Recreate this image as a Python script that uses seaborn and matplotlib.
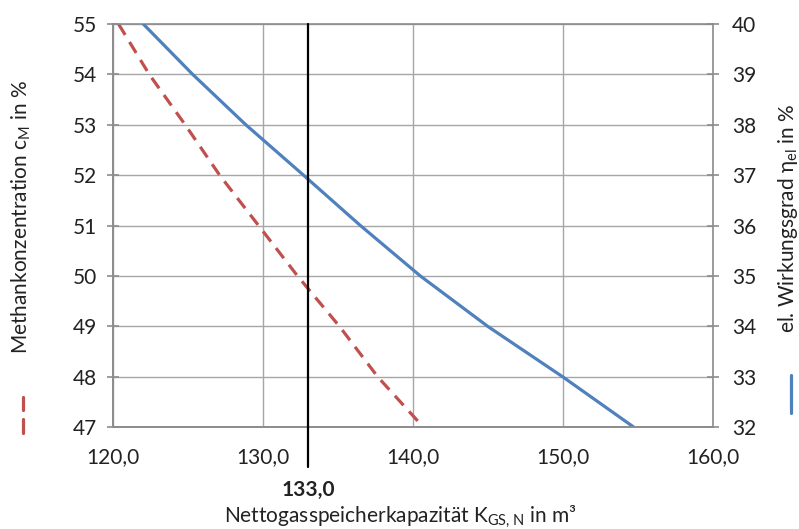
import numpy as np
import pandas as pd
import seaborn as sns
import matplotlib.pyplot as plt
from matplotlib.lines import Line2D
from matplotlib.ticker import FuncFormatter, MultipleLocator

# Methankonzentration (left axis) vs. Nettogasspeicherkapazität
methan_x = [120.35, 122.4, 124.8, 127.1, 129.7, 132.3, 135.1, 137.65, 140.7]
methan_y = [55, 54, 53, 52, 51, 50, 49, 48, 47]

# el. Wirkungsgrad (right axis)
wirk_x = [122.0, 125.3, 128.85, 132.7, 136.5, 140.5, 145.0, 150.0, 154.75]
wirk_y = [40, 39, 38, 37, 36, 35, 34, 33, 32]

marker_x = 133.0
red = '#C0504D'
blue = '#4F81BD'
grey = '#8c8c8c'
fs = 15

sns.set_style('white')
plt.rcParams['font.family'] = ['Lato', 'DejaVu Sans']
plt.rcParams['mathtext.fontset'] = 'custom'
plt.rcParams['mathtext.rm'] = 'Lato'

df_m = pd.DataFrame({'x': methan_x, 'y': methan_y})
df_w = pd.DataFrame({'x': wirk_x, 'y': wirk_y})

fig = plt.figure(figsize=(7.99, 5.29), dpi=100)
ax = fig.add_axes([0.1418, 0.1922, 0.892 - 0.1418, 0.9546 - 0.1922])
ax2 = ax.twinx()

sns.lineplot(data=df_m, x='x', y='y', ax=ax, color=red, lw=2.3,
             estimator=None, sort=False, dashes=False, linestyle=(0, (4, 2.6)))
sns.lineplot(data=df_w, x='x', y='y', ax=ax2, color=blue, lw=2.3,
             estimator=None, sort=False)

ax.set_xlim(120, 160)
ax.set_ylim(47, 55)
ax2.set_ylim(32, 40)
ax.xaxis.set_major_locator(MultipleLocator(10))
ax.yaxis.set_major_locator(MultipleLocator(1))
ax2.yaxis.set_major_locator(MultipleLocator(1))
ax.xaxis.set_major_formatter(FuncFormatter(lambda v, p: f'{v:.1f}'.replace('.', ',')))

ax.grid(True, color='#a6a6a6', lw=1.0)
ax.set_axisbelow(True)
ax2.grid(False)

for a in (ax, ax2):
    for s in a.spines.values():
        s.set_color(grey)
        s.set_linewidth(1.2)
    a.tick_params(direction='inout', length=8, width=1.2, color=grey,
                  labelsize=fs, labelcolor='#222222', pad=8)
    a.set_xlabel('')
    a.set_ylabel('')
ax.spines['right'].set_visible(False)
ax2.spines['top'].set_visible(False)
ax.tick_params(axis='x', pad=10)
ax2.tick_params(axis='y', pad=10)

# marker line at 133,0
ax2.axvline(marker_x, ymin=-0.098, ymax=1, color='black', lw=1.6,
            clip_on=False, zorder=5)
ax.text(marker_x, -0.155, f'{marker_x:.1f}'.replace('.', ','),
        transform=ax.get_xaxis_transform(), ha='center', va='center',
        fontsize=fs, fontweight='bold', color='#222222')

fig.text(400 / 799, 1 - 517 / 529, r'Nettogasspeicherkapazität K$_\mathregular{GS,N}$ in m³',
         ha='center', va='center', fontsize=fs, color='#222222')
fig.text(21 / 799, 1 - 217 / 529, r'Methankonzentration c$_\mathregular{M}$ in %',
         rotation=90, ha='center', va='center', fontsize=fs, color='#222222')
fig.text(788 / 799, 1 - 218 / 529, r'el. Wirkungsgrad η$_\mathregular{el}$ in %',
         rotation=90, ha='center', va='center', fontsize=fs, color='#222222')

# legend keys next to the axis titles
for y0, y1 in [(397, 410), (419, 433)]:
    fig.add_artist(Line2D([23 / 799, 23 / 799], [1 - y0 / 529, 1 - y1 / 529],
                          transform=fig.transFigure, color=red, lw=2.3))
fig.add_artist(Line2D([791 / 799, 791 / 799], [1 - 375 / 529, 1 - 413 / 529],
                      transform=fig.transFigure, color=blue, lw=2.3))

fig.savefig('out.png', dpi=100)
